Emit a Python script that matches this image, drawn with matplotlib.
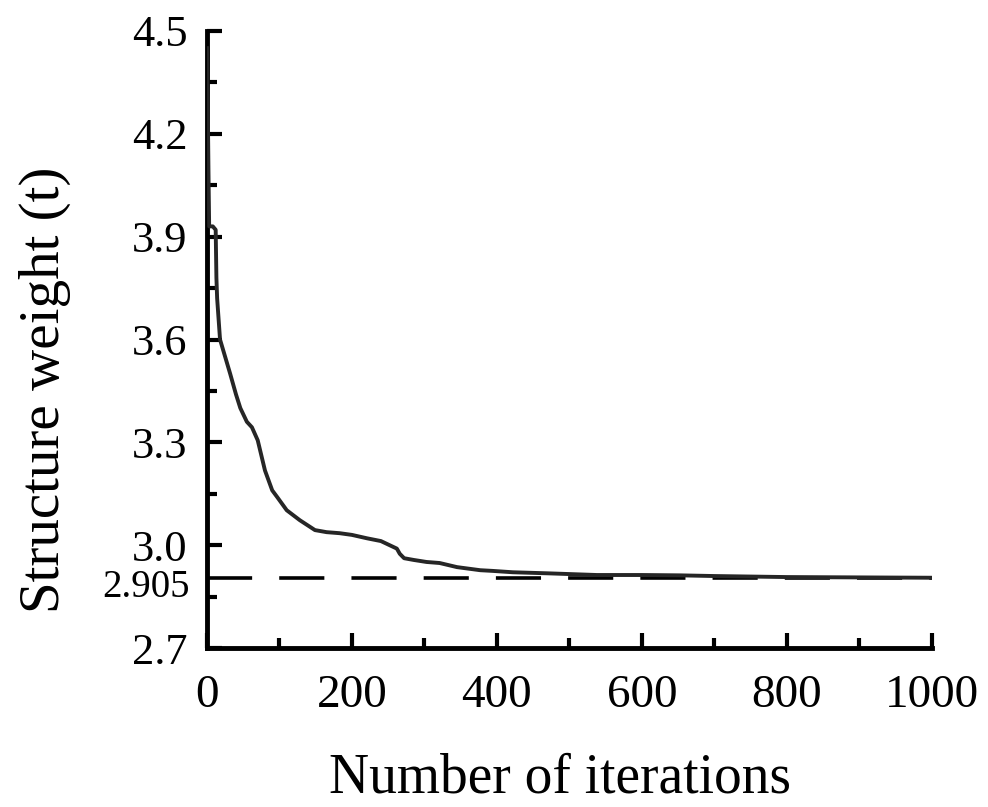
import matplotlib
matplotlib.use("Agg")
import matplotlib.pyplot as plt
from matplotlib.ticker import MultipleLocator
from matplotlib.transforms import ScaledTranslation

plt.rcParams['font.family'] = ['Liberation Serif', 'DejaVu Serif']

# convergence curve
iterations = [0, 1, 2, 3, 8, 12, 13, 14, 18, 25, 32, 40, 46, 55, 62, 70, 80, 90, 97,
              110, 128, 149, 165, 183, 200, 221, 240, 252, 262, 266, 272, 285, 303,
              321, 345, 377, 394, 422, 469, 538, 600, 652, 700, 800, 900, 1000]
weights = [4.45, 4.30, 4.10, 3.93, 3.93, 3.92, 3.78, 3.72, 3.60, 3.55, 3.50, 3.44, 3.40,
           3.36, 3.344, 3.306, 3.218, 3.16, 3.140, 3.102, 3.073, 3.044, 3.038, 3.035,
           3.030, 3.020, 3.012, 3.000, 2.990, 2.975, 2.962, 2.957, 2.951, 2.948, 2.936,
           2.927, 2.925, 2.921, 2.918, 2.913, 2.913, 2.912, 2.910, 2.907, 2.906, 2.905]
optimum = 2.905

y_ticks = [2.7, 3.0, 3.3, 3.6, 3.9, 4.2, 4.5]
x_ticks = [0, 200, 400, 600, 800, 1000]

fig = plt.figure(figsize=(9.88, 8.07), dpi=100)
ax = fig.add_axes([0.2095, 0.197, 0.7335, 0.7646])

ax.plot(iterations, weights, color='#262626', lw=2.8, zorder=3)
ax.plot([0, 1000], [optimum, optimum], color='black', lw=2.6,
        dashes=(12.5, 7.5), zorder=2)

ax.set_xlim(0, 1000)
ax.set_ylim(2.7, 4.5)

for s in ['top', 'right']:
    ax.spines[s].set_visible(False)
for s in ['left', 'bottom']:
    ax.spines[s].set_linewidth(3.5)

ax.set_yticks(y_ticks)
ax.set_yticklabels([f'{v:.1f}' for v in y_ticks])
ax.set_xticks(x_ticks)
ax.xaxis.set_minor_locator(MultipleLocator(100))
ax.yaxis.set_minor_locator(MultipleLocator(0.15))

ax.tick_params(which='major', direction='in', length=11, width=3)
ax.tick_params(which='minor', direction='in', length=7, width=3)
ax.tick_params(axis='y', labelsize=32, pad=14)
ax.tick_params(axis='x', labelsize=34, pad=19)

# label for the optimum, sitting just under the dashed line
off = ScaledTranslation(-0.17, -0.10, fig.dpi_scale_trans)
ax.text(0, optimum, '2.905', fontsize=28, ha='right', va='center',
        transform=ax.get_yaxis_transform() + off)

ax.set_xlabel('Number of iterations', fontsize=40)
ax.xaxis.set_label_coords(0.4876, -0.234)
ax.xaxis.label.set_va('baseline')
ax.set_ylabel('Structure weight (t)', fontsize=41)
ax.yaxis.set_label_coords(-0.2234, 0.418)
ax.yaxis.label.set_va('center')

fig.savefig('out.png', dpi=100)
